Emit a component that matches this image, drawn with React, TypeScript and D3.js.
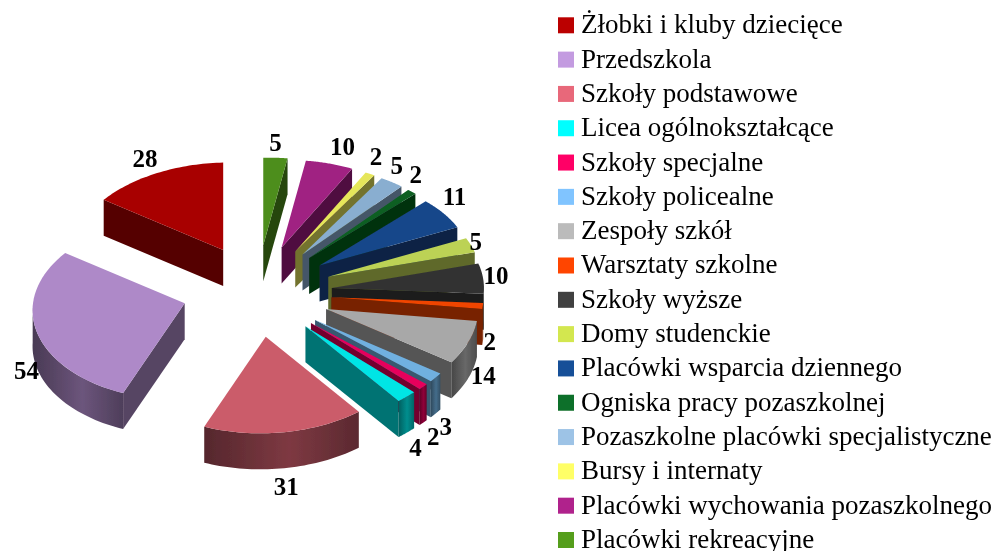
import * as d3 from "d3";

// legend order, same order as the pie going round from 12 o'clock
const categories = [
  "Żłobki i kluby dziecięce",
  "Przedszkola",
  "Szkoły podstawowe",
  "Licea ogólnokształcące",
  "Szkoły specjalne",
  "Szkoły policealne",
  "Zespoły szkół",
  "Warsztaty szkolne",
  "Szkoły wyższe",
  "Domy studenckie",
  "Placówki wsparcia dziennego",
  "Ogniska pracy pozaszkolnej",
  "Pozaszkolne placówki specjalistyczne",
  "Bursy i internaty",
  "Placówki wychowania pozaszkolnego",
  "Placówki rekreacyjne",
];
const values = [28, 54, 31, 4, 2, 3, 14, 2, 10, 5, 11, 2, 5, 2, 10, 5];
const legendColors = [
  "#bb0000", "#c39be0", "#e8677a", "#00ffff", "#ff0066", "#80c4ff", "#bbbbbb", "#ff4500",
  "#3f3f3f", "#d3e750", "#165098", "#0f6f2a", "#9dc3e6", "#ffff66", "#b0228c", "#559e1e",
];
const topColors = [
  "#a80000", "#ae89c8", "#cb5c6a", "#00e5e5", "#e6005c", "#6fb0e0", "#a8a8a8", "#f04400",
  "#333333", "#bcd254", "#16478a", "#0b5f22", "#89aed0", "#e6e65a", "#a02182", "#4e8e1e",
];
// label offsets from the rim, Excel puts these in odd spots
const labelNudge = [
  [-12, -15], [-10, 39], [2, 54], [9, 51], [10, 50], [10, 49], [15, 33], [7, 35],
  [13, -3], [5, -4], [11, -17], [4, -17], [5, -17], [6, -17], [13, -17], [0, -15],
];

const width = 994;
const height = 551;
const cx = 257;
const cy = 291;
const explodeX = 75;
const explodeY = 46;
const rimX = 152;
const rimY = 92;
const tilt = 3.5;
const depth = 36;

type Pt = [number, number];

const shade = (c: string, k: number) => {
  const r = d3.rgb(c);
  return d3.rgb(r.r * k, r.g * k, r.b * k).formatHex();
};

// flattened circle with a little perspective, front looks bigger than back
const rim = (apex: Pt, a: number): Pt => {
  const up = Math.cos(a);
  return [
    apex[0] - Math.sin(a) * rimX * (1 - 0.04 * up),
    apex[1] - up * rimY * (1 - 0.05 * up) + tilt * Math.sin(a),
  ];
};

const line = d3.line<Pt>();
const drop = (p: Pt): Pt => [p[0], p[1] + depth];
const arcPts = (apex: Pt, a0: number, a1: number) =>
  d3.range(41).map((i) => rim(apex, d3.interpolateNumber(a0, a1)(i / 40)));

const arcs = d3.pie<number>().sort(null).value((d) => d)(values);

const slices = arcs.map((d, i) => {
  const mid = (d.startAngle + d.endAngle) / 2;
  const apex: Pt = [cx - Math.sin(mid) * explodeX, cy - Math.cos(mid) * explodeY];
  const edge = arcPts(apex, d.startAngle, d.endAngle);
  const inner = rim(apex, mid);

  // cut faces: keep those with their normal turned towards the viewer
  const faces = [edge[0], edge[edge.length - 1]].filter((p) => {
    const ex = p[0] - apex[0];
    const ey = p[1] - apex[1];
    let nx = -ey;
    let ny = ex;
    if (nx * (inner[0] - apex[0]) + ny * (inner[1] - apex[1]) > 0) {
      nx = -nx;
      ny = -ny;
    }
    return ny > 0;
  });

  // outer wall only shows on the front half
  const a0 = Math.max(d.startAngle, Math.PI / 2);
  const a1 = Math.min(d.endAngle, (3 * Math.PI) / 2);
  const wall = a1 > a0 ? arcPts(apex, a0, a1) : null;

  return { i, mid, apex, edge, inner, faces, wall };
});

const drawOrder = [...slices].sort((a, b) => Math.cos(b.mid) - Math.cos(a.mid));

const legendY = d3.scaleLinear().domain([0, 15]).range([25.3, 540]);

export default function App() {
  return (
    <svg
      width={width}
      height={height}
      style={{ position: "absolute", left: 0, top: 0, display: "block", background: "#fff" }}
    >
      <defs>
        {slices.map((s) => (
          <linearGradient key={s.i} id={`wall${s.i}`} x1="0" x2="1" y1="0" y2="0">
            <stop offset="0" stopColor={shade(topColors[s.i], 0.42)} />
            <stop offset="0.55" stopColor={shade(topColors[s.i], 0.62)} />
            <stop offset="1" stopColor={shade(topColors[s.i], 0.45)} />
          </linearGradient>
        ))}
        {/* the source picture is a soft upscale */}
        <filter id="soft" x="0" y="0" width="100%" height="100%" filterUnits="userSpaceOnUse">
          <feGaussianBlur stdDeviation="0.45" />
        </filter>
      </defs>

      <g filter="url(#soft)">
        {drawOrder.map((s) => (
          <g key={s.i}>
            {s.faces.map((p, k) => (
              <path
                key={k}
                d={line([s.apex, p, drop(p), drop(s.apex)]) + "Z"}
                fill={shade(topColors[s.i], 0.5)}
              />
            ))}
            {s.wall && (
              <path
                d={line([...s.wall, ...s.wall.map(drop).reverse()]) + "Z"}
                fill={`url(#wall${s.i})`}
              />
            )}
            <path d={line([s.apex, ...s.edge]) + "Z"} fill={topColors[s.i]} />
          </g>
        ))}

        {slices.map((s) => (
          <text
            key={s.i}
            x={s.inner[0] + labelNudge[s.i][0]}
            y={s.inner[1] + labelNudge[s.i][1]}
            textAnchor="middle"
            dominantBaseline="central"
            fontFamily="'Liberation Serif'"
            fontWeight="bold"
            fontSize={25}
            fill="#000"
          >
            {values[s.i]}
          </text>
        ))}

        {categories.map((c, i) => (
          <g key={c}>
            <rect x={558} y={legendY(i) - 8} width={16} height={16} fill={legendColors[i]} />
            <text
              x={581}
              y={legendY(i) + 8}
              fontFamily="'Liberation Serif'"
              fontSize={27}
              fill="#000"
            >
              {c}
            </text>
          </g>
        ))}
      </g>
    </svg>
  );
}
